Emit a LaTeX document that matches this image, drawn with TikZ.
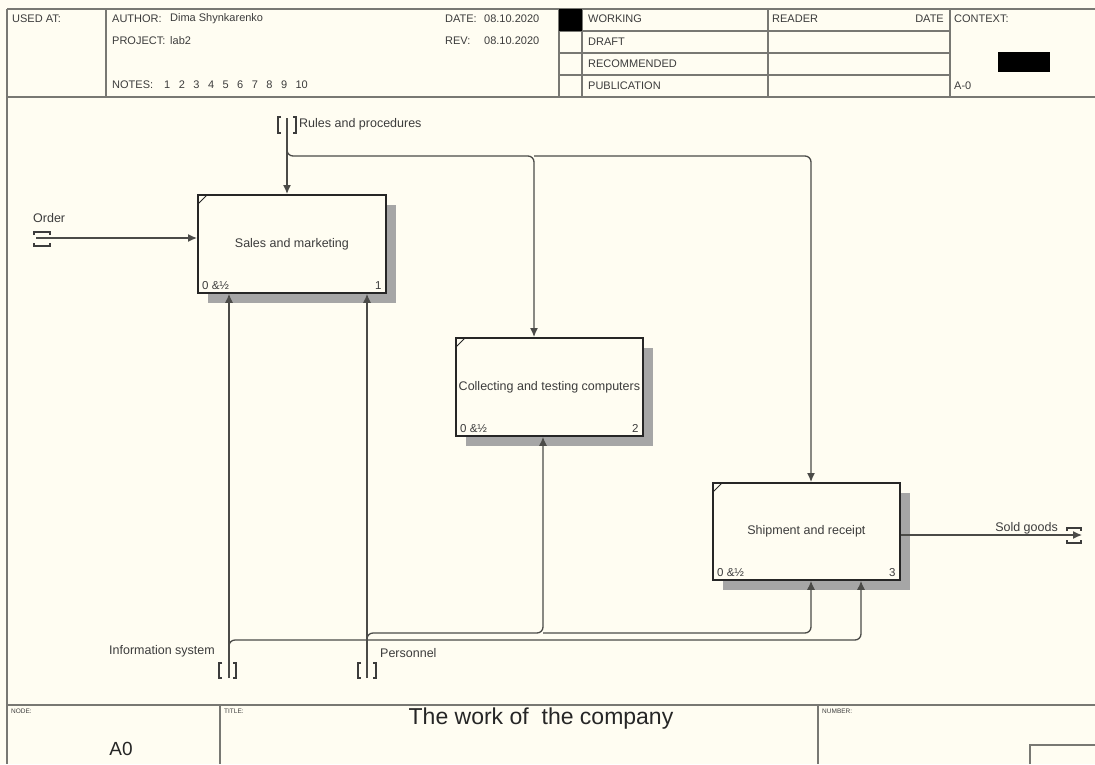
\documentclass[tikz,border=0pt]{standalone}
\usepackage{fontspec}
\setmainfont{Liberation Sans}
\usetikzlibrary{arrows.meta,calc,shadows}
\definecolor{paper}{RGB}{255,253,242}
\definecolor{wire}{RGB}{75,75,72}
\definecolor{frame}{RGB}{120,120,115}
\definecolor{ink}{RGB}{60,60,60}

\begin{document}
\begin{tikzpicture}[x=1pt,y=-1pt,
  frameline/.style={draw=frame,line width=1.4pt},
  hdr/.style={font=\fontsize{11}{12}\selectfont,text=ink,inner sep=0pt,anchor=west},
  lbl/.style={font=\fontsize{12.5}{14}\selectfont,text=ink,inner sep=0pt},
  tiny/.style={font=\fontsize{6.5}{7}\selectfont,text=ink,inner sep=0pt,anchor=north west},
  actbox/.style={draw=black!85,line width=1.8pt,fill=paper,anchor=north west,
    font=\fontsize{12.5}{14}\selectfont,text=ink,inner sep=0pt,
    drop shadow={shadow xshift=10pt,shadow yshift=-10pt,fill=black!35,opacity=1}},
  wireline/.style={draw=wire,line width=1.3pt,rounded corners=6pt},
  arrowed/.style={wireline,-{Latex[length=9pt,width=8pt]}},
  tunnel/.style={draw=ink,line width=1.1pt}]

% page
\fill[paper] (0,0) rectangle (1095,764);
\useasboundingbox (0,0) rectangle (1095,764);

% ---------- header frame ----------
\draw[frameline] (7,9) -- (1095,9);
\draw[frameline] (7,97) -- (1095,97);
\draw[frameline] (7,9) -- (7,764);
\foreach \xx in {106,559,582,768,950} \draw[frameline] (\xx,9) -- (\xx,97);
\foreach \yy in {31,53,75} \draw[frameline] (559,\yy) -- (950,\yy);
\fill[black] (559,9) rectangle (582,31);
\fill[black] (998,52) rectangle (1050,72);

\node[hdr] (usedat) at (12,19) {USED AT:};
\node[hdr] (author) at (112,19) {AUTHOR:};
\node[hdr] (authorv) at (170,19) {Dima Shynkarenko};
\node[hdr] (project) at (112,41) {PROJECT:};
\node[hdr] (projectv) at (170,41) {lab2};
\node[hdr] (notes) at (112,85) {NOTES:};
\foreach \k in {1,...,10}
  \node[hdr] (note\k) at ({164+(\k-1)*14.6},85) {\k};
\node[hdr] (date) at (445,19) {DATE:};
\node[hdr] (datev) at (484,19) {08.10.2020};
\node[hdr] (rev) at (445,41) {REV:};
\node[hdr] (revv) at (484,41) {08.10.2020};
\node[hdr] (working) at (588,19) {WORKING};
\node[hdr] (draft) at (588,42) {DRAFT};
\node[hdr] (recom) at (588,64) {RECOMMENDED};
\node[hdr] (publ) at (588,86) {PUBLICATION};
\node[hdr] (reader) at (772,19) {READER};
\node[hdr,anchor=east] (rdate) at (944,19) {DATE};
\node[hdr] (context) at (954,19) {CONTEXT:};
\node[hdr] (aminus) at (954,86) {A-0};

% ---------- footer frame ----------
\draw[frameline] (7,705) -- (1095,705);
\draw[frameline] (220,705) -- (220,764);
\draw[frameline] (818,705) -- (818,764);
\draw[frameline] (1030,764) -- (1030,745) -- (1095,745);
\node[tiny] (nodehdr) at (11,709) {NODE:};
\node[tiny] (titlehdr) at (224,709) {TITLE:};
\node[tiny] (numhdr) at (822,709) {NUMBER:};
\node[font=\fontsize{19}{21}\selectfont,text=black!85,inner sep=0pt] (nodeval) at (121,749) {A0};
\node[font=\fontsize{23}{25}\selectfont,text=black!85,inner sep=0pt] (title) at (541,719) {The work of\ \ the company};

% ---------- activity boxes ----------
\node[actbox,minimum width=188pt,minimum height=98pt] (b1) at (197,194) {Sales and marketing};
\node[actbox,minimum width=187pt,minimum height=98pt] (b2) at (455,337) {Collecting and testing computers};
\node[actbox,minimum width=187pt,minimum height=97pt] (b3) at (712,482) {Shipment and receipt};

\foreach \b/\n in {b1/1,b2/2,b3/3}{
  \draw[black!85,line width=1pt] ($(\b.north west)+(1,10)$) -- ($(\b.north west)+(10,1)$);
  \node[lbl,anchor=south west,font=\fontsize{11.5}{12}\selectfont] at ($(\b.south west)+(5,-4)$) {0 \&½};
  \node[lbl,anchor=south east,font=\fontsize{11.5}{12}\selectfont] at ($(\b.south east)+(-5,-4)$) {\n};
}

% ---------- boundary points ----------
\coordinate (rulesIn) at (287,118);
\coordinate (orderIn) at (36,238);
\coordinate (infoIn) at (229,678);
\coordinate (persIn) at (367,678);
\coordinate (soldOut) at (1082,535);
\coordinate (ctlBus) at (287,156);
\coordinate (infoBus) at (229,640);
\coordinate (persBus) at (367,633);

% ---------- arrows ----------
% control
\draw[arrowed] (rulesIn) -- (rulesIn |- b1.north);
\draw[arrowed] (ctlBus) ++(0,-4) -- ++(0,4) -- (534,156) -- (534,0 |- b2.north);
\draw[arrowed] (534,156) -- (811,156) -- (811,0 |- b3.north);
% input
\draw[arrowed] (orderIn) -- (orderIn -| b1.west);
% mechanisms
\draw[arrowed] (infoIn) -- (infoIn |- b1.south);
\draw[arrowed] (persIn) -- (persIn |- b1.south);
\draw[arrowed] (infoBus) ++(0,4) -- ++(0,-4) -- (861,640) -- (861,0 |- b3.south);
\draw[arrowed] (persBus) ++(0,4) -- ++(0,-4) -- (543,633) -- (543,0 |- b2.south);
\draw[arrowed] (543,633) -- (811,633) -- (811,0 |- b3.south);
% output
\draw[arrowed] (b3.east |- soldOut) -- (soldOut);

% ---------- tunnel brackets ----------
\draw[tunnel] (281,117) -- (278,117) -- (278,133) -- (281,133);
\draw[tunnel] (293,117) -- (296,117) -- (296,133) -- (293,133);
\draw[tunnel] (222,663) -- (219,663) -- (219,678) -- (222,678);
\draw[tunnel] (233,663) -- (236,663) -- (236,678) -- (233,678);
\draw[tunnel] (361,663) -- (358,663) -- (358,678) -- (361,678);
\draw[tunnel] (373,663) -- (376,663) -- (376,678) -- (373,678);
\draw[tunnel] (34,235) -- (34,232) -- (50,232) -- (50,235);
\draw[tunnel] (34,243) -- (34,246) -- (50,246) -- (50,243);
\draw[tunnel] (1067,531) -- (1067,528) -- (1081,528) -- (1081,531);
\draw[tunnel] (1067,540) -- (1067,543) -- (1081,543) -- (1081,540);

% ---------- arrow labels ----------
\node[lbl,anchor=west] (rulesLbl) at (299,124) {Rules and procedures};
\node[lbl,anchor=west] (orderLbl) at (33,218) {Order};
\node[lbl,anchor=east] (infoLbl) at (215,651) {Information system};
\node[lbl,anchor=west] (persLbl) at (380,653) {Personnel};
\node[lbl,anchor=east] (soldLbl) at (1058,528) {Sold goods};
\end{tikzpicture}
\end{document}
